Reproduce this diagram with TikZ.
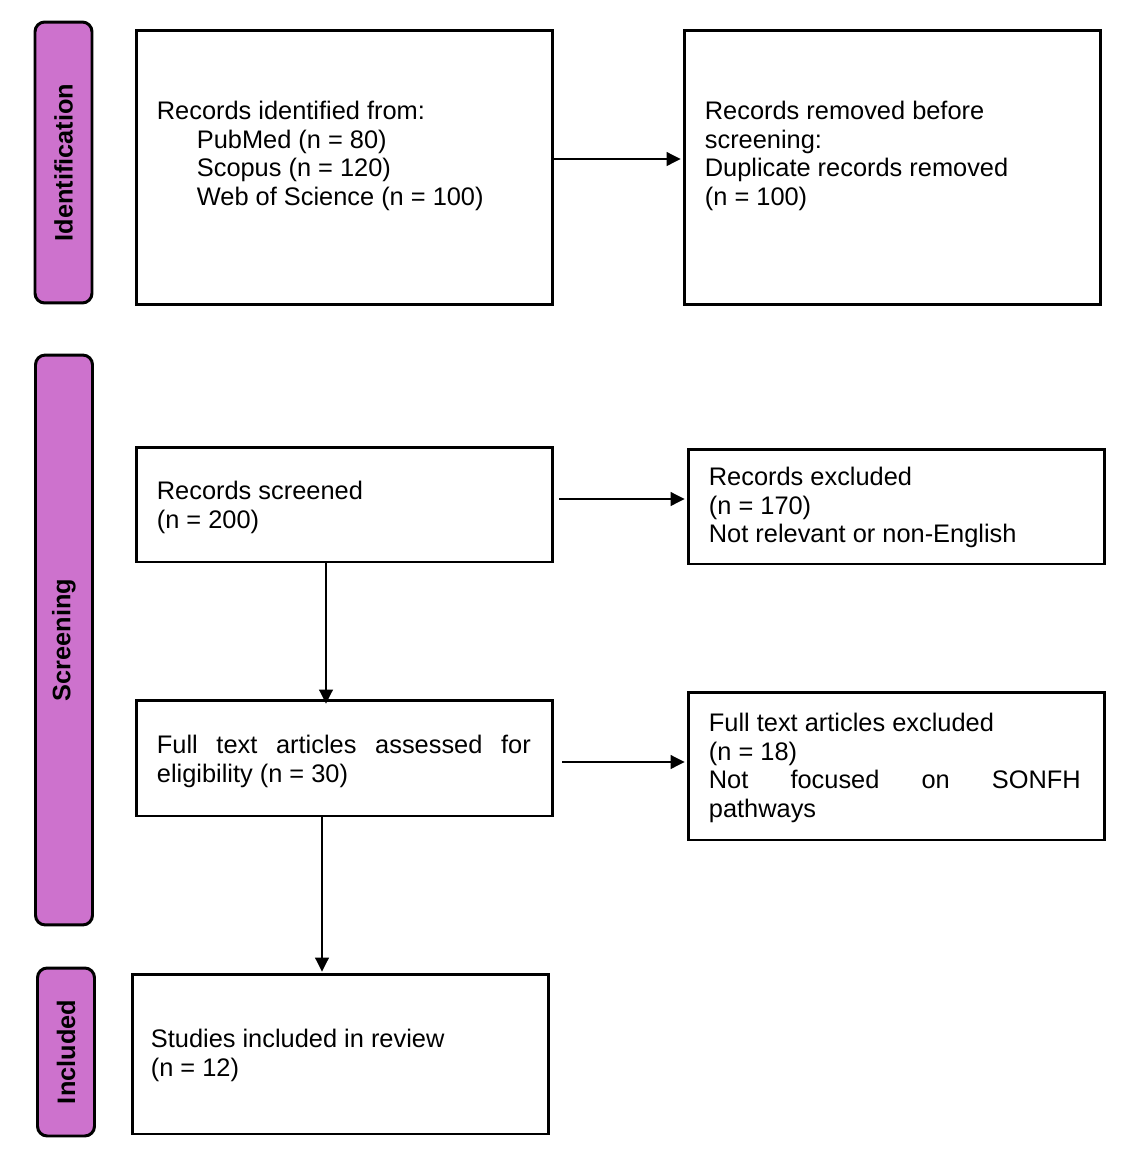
\documentclass[tikz,border=0pt]{standalone}
\usepackage{fontspec}
\setmainfont{Liberation Sans}
\usetikzlibrary{arrows.meta}
\definecolor{stagepink}{RGB}{205,114,205}
\hyphenpenalty=10000
\tolerance=10000
\tikzset{
  % style for the coloured stage bars on the left
  stage bar/.style={draw=black,line width=1.7pt,fill=stagepink,
    rounded corners=5.5pt,rotate=90,minimum height=1.14cm,inner sep=0pt,
    font=\fontsize{14.4}{16.4}\selectfont\bfseries},
  % style for the white boxes of the flow
  flow box/.style={draw=black,line width=1.7pt,minimum width=8.34cm,inner sep=0pt},
  % style for the text put inside a box
  flow text/.style={anchor=north west,inner sep=0pt,align=left},
  % style for the thin arrows between the boxes
  flow arrow/.style={line width=0.6pt,-{Triangle[length=0.28cm,width=0.28cm]}},
}

\begin{document}
\begin{tikzpicture}[x=0.02cm,y=-0.02cm,font=\fontsize{14.45}{16.4}\selectfont]
\useasboundingbox (0,0) rectangle (1128,1164);
% stage bars
\node[stage bar,minimum width=5.62cm]  (idbar)  at (63.5,162.5) {Identification};
\node[stage bar,minimum width=11.4cm]  (scrbar) at (64,640) {Screening};
\node[stage bar,minimum width=3.36cm]  (incbar) at (66,1052) {Included};
% boxes
\node[flow box,minimum height=5.5cm]  (ident)    at (344.5,167.5) {};
\node[flow box,minimum height=5.5cm]  (removed)  at (892.5,167.5) {};
\node[flow box,minimum height=2.3cm]  (screened) at (344.5,504.5) {};
\node[flow box,minimum height=2.3cm]  (excluded) at (896.5,506.5) {};
\node[flow box,minimum height=2.32cm] (fulltext) at (344.5,758) {};
\node[flow box,minimum height=2.96cm] (ftexcl)   at (896.5,766) {};
\node[flow box,minimum height=3.2cm]  (included) at (340.5,1054) {};
% texts
\node[flow text] (identtxt) at ([xshift=0.44cm,yshift=-1.44cm]ident.north west)
  {Records identified from:\\ \hspace*{0.8cm}PubMed (n = 80)\\
   \hspace*{0.8cm}Scopus (n = 120)\\ \hspace*{0.8cm}Web of Science (n = 100)};
\node[flow text] (removedtxt) at ([xshift=0.44cm,yshift=-1.44cm]removed.north west)
  {Records removed before\\ screening:\\ Duplicate records removed\\ (n = 100)};
\node[flow text] (screenedtxt) at ([xshift=0.44cm,yshift=-0.7cm]screened.north west)
  {Records screened\\ (n = 200)};
\node[flow text] (excludedtxt) at ([xshift=0.44cm,yshift=-0.38cm]excluded.north west)
  {Records excluded\\ (n = 170)\\ Not relevant or non-English};
\node[flow text,text width=7.48cm,align=justify] (fulltexttxt)
  at ([xshift=0.44cm,yshift=-0.72cm]fulltext.north west)
  {Full text articles assessed for eligibility (n = 30)};
\node[flow text,text width=7.44cm,align=justify] (ftexcltxt)
  at ([xshift=0.44cm,yshift=-0.44cm]ftexcl.north west)
  {Full text articles excluded\\ (n = 18)\\ Not focused on SONFH\linebreak pathways};
\node[flow text] (includedtxt) at ([xshift=0.4cm,yshift=-1.12cm]included.north west)
  {Studies included in review\\ (n = 12)};
% arrows
\draw[flow arrow] (ident.east |- 0,159) -- ([xshift=-0.04cm]removed.west |- 0,159);
\draw[flow arrow] ([xshift=0.1cm]screened.east |- 0,499) -- ([xshift=-0.04cm]excluded.west |- 0,499);
\draw[flow arrow] (326,0 |- screened.south) -- ([yshift=-0.1cm]326,0 |- fulltext.north);
\draw[flow arrow] ([xshift=0.16cm]fulltext.east |- 0,762) -- ([xshift=-0.04cm]ftexcl.west |- 0,762);
\draw[flow arrow] (322,0 |- fulltext.south) -- ([yshift=0.02cm]322,0 |- included.north);
\end{tikzpicture}
\end{document}
